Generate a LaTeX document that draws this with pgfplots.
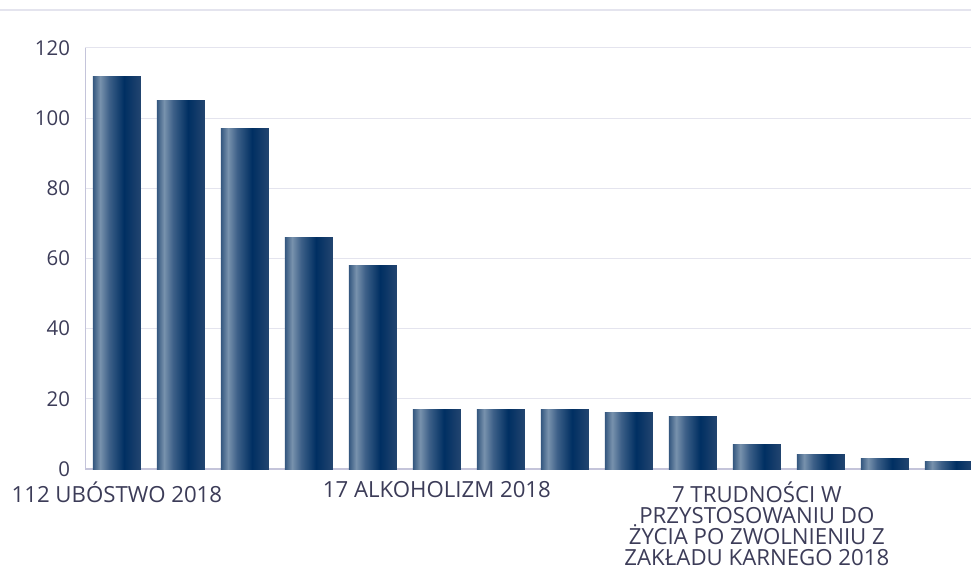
\documentclass[border=0pt]{standalone}
\usepackage{fontspec}
\setmainfont{Open Sans}
\usepackage{pgfplots}
\pgfplotsset{compat=1.18}
\definecolor{txt}{HTML}{3C3C58}
\definecolor{gridc}{HTML}{E4E4EE}
\definecolor{axc}{HTML}{C4C4DA}
\definecolor{bA}{HTML}{34577F}
\definecolor{bB}{HTML}{7892AD}
\definecolor{bC}{HTML}{3D6088}
\definecolor{bD}{HTML}{002F62}
\definecolor{bE}{HTML}{234570}
\pgfdeclarehorizontalshading{barshade}{100bp}{color(0bp)=(bA); color(25bp)=(bA); color(32.5bp)=(bB); color(42bp)=(bC); color(57.5bp)=(bD); color(75bp)=(bE); color(100bp)=(bE)}
\pgfplotsset{mybar/.style={ybar, bar width=48bp, bar shift=0pt, draw=none, shade, shading=barshade}}
\begin{document}
\begin{tikzpicture}
\useasboundingbox (-85.5bp,-102bp) rectangle (885.5bp,469bp);
\draw[color=gridc, line width=2bp] (-85.5bp,459bp) -- (885.5bp,459bp);
\begin{axis}[
  at={(0,0)}, anchor=south west,
  scale only axis, width=885.5bp, height=421bp,
  xmin=-0.49, xmax=13.346, ymin=0, ymax=120,
  ytick={0,20,40,60,80,100,120},
  xtick={0,5,10},
  xticklabels={{112 UBÓSTWO 2018},{17 ALKOHOLIZM 2018},{7 TRUDNOŚCI W\\PRZYSTOSOWANIU DO\\ŻYCIA PO ZWOLNIENIU Z\\ZAKŁADU KARNEGO 2018}},
  /pgf/number format/assume math mode=true,
  tick style={draw=none},
  major tick length=0pt,
  ymajorgrids, grid style={color=gridc, line width=1bp},
  axis x line*=bottom, axis y line*=left,
  x axis line style={color=axc, line width=1.6bp, -},
  y axis line style={color=axc, line width=1.4bp, -},
  yticklabel style={font=\fontsize{20.5}{22}\selectfont, text=txt, xshift=-12bp},
  xticklabel style={font=\fontsize{22.3}{21.2}\selectfont, text=txt, align=center, yshift=-9bp},
  clip=true,
]
\addplot[mybar] coordinates {(0,112)};
\addplot[mybar] coordinates {(1,105)};
\addplot[mybar] coordinates {(2,97)};
\addplot[mybar] coordinates {(3,66)};
\addplot[mybar] coordinates {(4,58)};
\addplot[mybar] coordinates {(5,17)};
\addplot[mybar] coordinates {(6,17)};
\addplot[mybar] coordinates {(7,17)};
\addplot[mybar] coordinates {(8,16)};
\addplot[mybar] coordinates {(9,15)};
\addplot[mybar] coordinates {(10,7)};
\addplot[mybar] coordinates {(11,4)};
\addplot[mybar] coordinates {(12,3)};
\addplot[mybar] coordinates {(13,2)};
\end{axis}
\end{tikzpicture}
\end{document}
